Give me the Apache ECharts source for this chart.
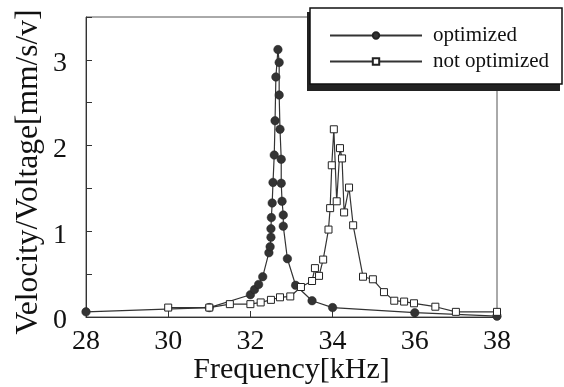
<!DOCTYPE html>
<html>
<head>
<meta charset="utf-8">
<script src="https://cdn.jsdelivr.net/npm/echarts@6/dist/echarts.min.js"></script>
<style>html,body{margin:0;padding:0;background:#fff}#c{width:564px;height:387px}</style>
</head>
<body>
<div id="c"></div>
<script>
const seriesNames = ['optimized', 'not optimized'];
const optFreq = [28.0, 31.0, 32.0, 32.1, 32.2, 32.3, 32.45, 32.48, 32.5, 32.5, 32.51, 32.53, 32.55, 32.58, 32.6, 32.62, 32.67, 32.7, 32.7, 32.72, 32.75, 32.75, 32.77, 32.8, 32.8, 32.9, 33.1, 33.5, 34.0, 36.0, 38.0];
const optVal = [0.06, 0.11, 0.26, 0.32, 0.38, 0.47, 0.75, 0.82, 0.93, 1.03, 1.16, 1.33, 1.57, 1.89, 2.29, 2.80, 3.12, 2.97, 2.59, 2.19, 1.84, 1.56, 1.35, 1.19, 1.06, 0.68, 0.37, 0.19, 0.11, 0.05, 0.01];
const nopFreq = [30.0, 31.0, 31.5, 32.0, 32.25, 32.5, 32.72, 32.97, 33.23, 33.5, 33.57, 33.67, 33.77, 33.9, 33.94, 33.98, 34.03, 34.1, 34.18, 34.23, 34.28, 34.4, 34.5, 34.74, 34.98, 35.25, 35.5, 35.74, 35.98, 36.5, 37.0, 38.0];
const nopVal = [0.11, 0.11, 0.15, 0.15, 0.17, 0.20, 0.23, 0.24, 0.35, 0.42, 0.57, 0.48, 0.67, 1.02, 1.27, 1.77, 2.19, 1.35, 1.97, 1.85, 1.22, 1.51, 1.07, 0.47, 0.44, 0.29, 0.19, 0.18, 0.16, 0.12, 0.06, 0.06];
const xTicks = [28, 30, 32, 34, 36, 38];
const yTicks = [0, 1, 2, 3];

const font = 'Liberation Serif';
const chart = echarts.init(document.getElementById('c'), null, {renderer: 'canvas'});
chart.setOption({
  backgroundColor: '#fff',
  animation: false,
  grid: {left: 86, right: 67, top: 17, bottom: 70, show: true, borderColor: '#555', borderWidth: 1,
    containLabel: false, outerBoundsMode: 'none'},
  xAxis: {
    type: 'value', min: xTicks[0], max: xTicks[xTicks.length - 1], interval: 2,
    axisLine: {lineStyle: {color: '#333'}},
    axisTick: {inside: true, length: 6, lineStyle: {color: '#333'}},
    splitLine: {show: false},
    axisLabel: {fontFamily: font, fontSize: 28, color: '#111', margin: 11},
    name: 'Frequency[kHz]', nameLocation: 'middle', nameGap: 38, nameMoveOverlap: false,
    nameTextStyle: {fontFamily: font, fontSize: 30, color: '#111'}
  },
  yAxis: {
    type: 'value', min: 0, max: 3.5, interval: 0.5,
    axisLine: {lineStyle: {color: '#333'}},
    axisTick: {inside: true, length: 6, lineStyle: {color: '#333'}},
    splitLine: {show: false},
    axisLabel: {fontFamily: font, fontSize: 28, color: '#111', margin: 19,
      verticalAlign: 'top', lineHeight: 8,
      formatter: v => yTicks.includes(v) ? String(v) : ''},
    name: 'Velocity/Voltage[mm/s/v]', nameLocation: 'middle', nameGap: 41, nameMoveOverlap: false,
    nameTextStyle: {fontFamily: font, fontSize: 31.5, color: '#111', padding: [0, 10, 0, 0]}
  },
  graphic: [
    {type: 'rect', z: 50, shape: {x: 307, y: 12, width: 253, height: 79}, style: {fill: '#222'}},
    {type: 'rect', z: 51, shape: {x: 310, y: 8, width: 252, height: 76},
      style: {fill: '#fff', stroke: '#111', lineWidth: 1.5}}
  ],
  legend: {
    z: 60, orient: 'vertical', left: 324, top: 20,
    itemWidth: 92, itemHeight: 8, itemGap: 5,
    textStyle: {fontFamily: font, fontSize: 21, lineHeight: 20, color: '#111', padding: [0, 0, 0, 6]},
    data: seriesNames
  },
  series: [
    {
      name: seriesNames[0], type: 'line', data: optFreq.map((f, i) => [f, optVal[i]]),
      symbol: 'circle', symbolSize: 8.5,
      lineStyle: {color: '#333', width: 1.2},
      itemStyle: {color: '#333', borderColor: '#222', borderWidth: 0.5}
    },
    {
      name: seriesNames[1], type: 'line', data: nopFreq.map((f, i) => [f, nopVal[i]]),
      symbol: 'rect', symbolSize: 7,
      lineStyle: {color: '#333', width: 1.2},
      itemStyle: {color: '#fff', borderColor: '#222', borderWidth: 1}
    }
  ]
});
</script>
</body>
</html>
